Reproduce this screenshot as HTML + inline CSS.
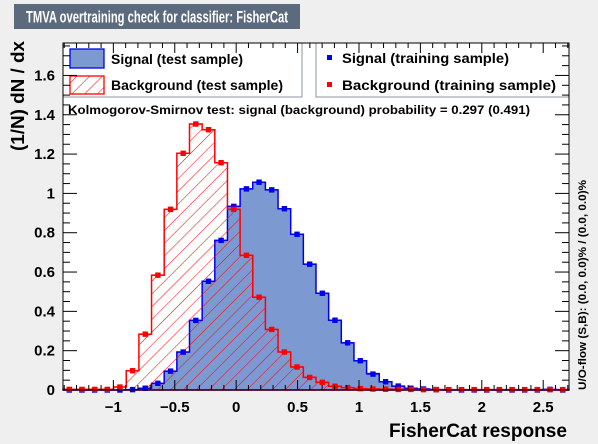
<!DOCTYPE html>
<html><head><meta charset="utf-8"><style>
body{margin:0;background:#efefef;}
svg{display:block;font-family:"Liberation Sans",sans-serif;}
</style></head><body>
<svg id="c" width="598" height="444">
<defs>
<pattern id="hatch" patternUnits="userSpaceOnUse" width="9" height="9" patternTransform="rotate(45)">
<line x1="0" y1="0" x2="0" y2="9" stroke="#ff0000" stroke-width="1"/>
</pattern>
</defs>
<rect x="0" y="0" width="598" height="444" fill="#efefef"/>
<rect x="14" y="4" width="286" height="25" fill="#5c6a7d"/>
<text x="26" y="22.5" fill="#fff" font-size="16.5" font-weight="bold" textLength="262" lengthAdjust="spacingAndGlyphs">TMVA overtraining check for classifier: FisherCat</text>
<rect x="63" y="43" width="506" height="347" fill="#fff"/>
<g id="marks"></g>
<rect x="63" y="43" width="239" height="54" fill="#fff" stroke="#8a94a0"/>
<rect x="316" y="43" width="253" height="54" fill="#fff" stroke="#8a94a0"/>
<rect x="70" y="49" width="34" height="19" fill="#7d99d1" stroke="#0000ee" stroke-width="1.3"/>
<text x="111" y="64" font-size="14" font-weight="bold" textLength="132" lengthAdjust="spacingAndGlyphs">Signal (test sample)</text>
<rect x="70" y="76" width="34" height="18" fill="url(#hatch)" stroke="#ff0000" stroke-width="1.3"/>
<text x="111" y="90" font-size="14" font-weight="bold" textLength="172" lengthAdjust="spacingAndGlyphs">Background (test sample)</text>
<rect x="327" y="55" width="5" height="5" fill="#0000ee"/>
<text x="342" y="63" font-size="14" font-weight="bold" textLength="167" lengthAdjust="spacingAndGlyphs">Signal (training sample)</text>
<rect x="327" y="82" width="5" height="5" fill="#ff0000"/>
<text x="342" y="90" font-size="14" font-weight="bold" textLength="214" lengthAdjust="spacingAndGlyphs">Background (training sample)</text>
<text x="68" y="114" font-size="12" font-weight="bold" textLength="462" lengthAdjust="spacingAndGlyphs">Kolmogorov-Smirnov test: signal (background) probability = 0.297 (0.491)</text>
<g id="axes"></g>
<text transform="translate(24,96) rotate(-90)" text-anchor="middle" font-size="18" font-weight="bold" textLength="110" lengthAdjust="spacingAndGlyphs">(1/N) dN / dx</text>
<text x="567" y="437" text-anchor="end" font-size="19" font-weight="bold" textLength="178" lengthAdjust="spacingAndGlyphs">FisherCat response</text>
<text transform="translate(586,390) rotate(-90)" font-size="11" font-weight="bold" textLength="210" lengthAdjust="spacingAndGlyphs">U/O-flow (S,B): (0.0, 0.0)% / (0.0, 0.0)%</text>
</svg>
<script>
const sigTest=[0,0,0,0,0,0.002,0.009,0.034,0.096,0.193,0.354,0.553,0.761,0.934,1.023,1.057,1.018,0.922,0.792,0.640,0.492,0.355,0.240,0.149,0.083,0.042,0.020,0.009,0.005,0.002,0,0,0,0,0,0,0,0,0.003,0];
const sigTrain=[0,0,0,0,0,0.002,0.009,0.034,0.096,0.193,0.354,0.553,0.761,0.934,1.023,1.057,1.018,0.922,0.792,0.640,0.492,0.355,0.240,0.149,0.081,0.042,0.020,0.009,0.005,0.002,0,0,0,0,0,0,0,0,0.003,0];
const bkgTest=[0.003,0.003,0.003,0.003,0.015,0.098,0.284,0.584,0.919,1.204,1.353,1.324,1.156,0.919,0.685,0.472,0.308,0.193,0.117,0.064,0.039,0.019,0.012,0.007,0.005,0.004,0.003,0.003,0.002,0.002,0.002,0.002,0.002,0.002,0.002,0.002,0.002,0.002,0.002,0.002];
const bkgTrain=[0.003,0.003,0.003,0.003,0.015,0.098,0.284,0.584,0.919,1.204,1.353,1.324,1.156,0.919,0.685,0.472,0.308,0.193,0.117,0.064,0.039,0.019,0.012,0.007,0.005,0.004,0.003,0.003,0.002,0.002,0.002,0.002,0.002,0.002,0.002,0.002,0.002,0.002,0.002,0.002];
const xTicks=[-1,-0.5,0,0.5,1,1.5,2,2.5];
const xTickLabels=["\u22121","\u22120.5","0","0.5","1","1.5","2","2.5"];
const yTicks=[0,0.2,0.4,0.6,0.8,1,1.2,1.4,1.6];
const yTickLabels=["0","0.2","0.4","0.6","0.8","1","1.2","1.4","1.6"];
const xMin=-1.41,xMax=2.71,yMin=0,yMax=1.765;
const L=63,R=569,T=43,B=390;
const NS="http://www.w3.org/2000/svg";
const xs=v=>L+(v-xMin)/(xMax-xMin)*(R-L);
const ys=v=>B-(v-yMin)/(yMax-yMin)*(B-T);
const bw=(xMax-xMin)/sigTest.length;
function mk(tag,at,parent){const e=document.createElementNS(NS,tag);for(const k in at)e.setAttribute(k,at[k]);parent.appendChild(e);return e;}
const marks=document.getElementById('marks'),axes=document.getElementById('axes');
function stepPath(arr){let d=`M${xs(xMin)},${ys(0)}`;arr.forEach((v,i)=>{const a=xs(xMin+i*bw),b=xs(xMin+(i+1)*bw);d+=`L${a},${ys(v)}L${b},${ys(v)}`;});d+=`L${xs(xMax)},${ys(0)}Z`;return d;}
const sp=mk('path',{d:stepPath(sigTest),fill:'#7d99d1',stroke:'#0000ee','stroke-width':1.5},marks);


const bp=mk('path',{d:stepPath(bkgTest),fill:'url(#hatch)',stroke:'#ff0000','stroke-width':1.5},marks);


function points(arr,col,name){arr.forEach((v,i)=>{const a=xs(xMin+i*bw),b=xs(xMin+(i+1)*bw),c=(a+b)/2,y=ys(v);
const g=mk('g',{},marks);


mk('line',{x1:a,x2:b,y1:y,y2:y,stroke:col,'stroke-width':1.2},g);
mk('line',{x1:c,x2:c,y1:y-2.5,y2:y+2.5,stroke:col,'stroke-width':1.2},g);
mk('rect',{x:c-2.7,y:y-2.7,width:5.4,height:5.4,fill:col},g);});}
points(sigTrain,'#0000ee','signal-train');
points(bkgTrain,'#ff0000','background-train');
mk('rect',{x:L,y:T,width:R-L,height:B-T,fill:'none',stroke:'#000','stroke-width':1},axes);
for(let v=-1.4;v<=2.7001;v+=0.1){const x=xs(v);const maj=Math.abs(v*2-Math.round(v*2))<1e-6;const len=maj?10:5;
mk('line',{x1:x,x2:x,y1:B,y2:B-len,stroke:'#000'},axes);mk('line',{x1:x,x2:x,y1:T,y2:T+len,stroke:'#000'},axes);}
for(let v=0;v<=1.75001;v+=0.05){const y=ys(v);const maj=Math.abs(v*5-Math.round(v*5))<1e-6;const len=maj?14:7;
mk('line',{x1:L,x2:L+len,y1:y,y2:y,stroke:'#000'},axes);mk('line',{x1:R,x2:R-len,y1:y,y2:y,stroke:'#000'},axes);}
xTicks.forEach((v,i)=>{const t=mk('text',{x:xs(v),y:412,'text-anchor':'middle','font-size':15,'font-weight':'bold'},axes);t.textContent=xTickLabels[i];

});
yTicks.forEach((v,i)=>{const t=mk('text',{x:55,y:ys(v)+5,'text-anchor':'end','font-size':15,'font-weight':'bold'},axes);t.textContent=yTickLabels[i];

});
</script>
</body></html>
